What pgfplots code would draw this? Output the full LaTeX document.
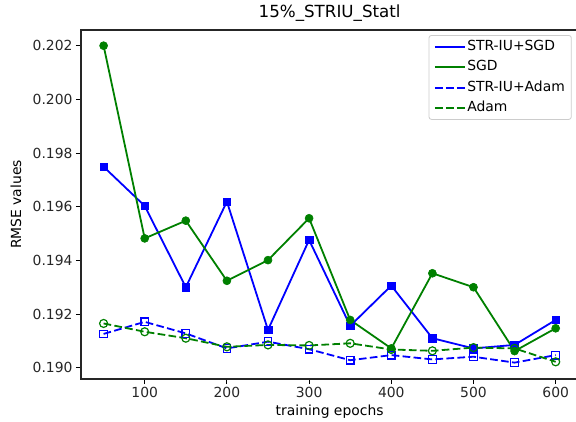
\documentclass[border=0pt]{standalone}
\usepackage{fontspec}
\setmainfont{DejaVu Sans}
\usepackage{pgfplots}
\pgfplotsset{compat=1.18}
\definecolor{mplgreen}{RGB}{0,128,0}
\definecolor{legendedge}{RGB}{204,204,204}

\begin{document}
\begin{tikzpicture}
\useasboundingbox (-81pt,-42pt) rectangle (495pt,379pt);
\begin{axis}[
  scale only axis,
  width=497.3pt, height=349pt,
  xmin=22.5, xmax=627.5,
  ymin=0.18958, ymax=0.202585,
  xtick={100,200,300,400,500,600},
  ytick={0.190,0.192,0.194,0.196,0.198,0.200,0.202},
  /pgf/number format/assume math mode=true,
  yticklabel style={/pgf/number format/.cd, fixed, fixed zerofill, precision=3},
  scaled y ticks=false,
  tick label style={font=\fontsize{13.9}{16}\selectfont, text=black!85},
  tick align=outside, tick pos=left,
  major tick length=5pt,
  tick style={black, line width=0.9pt},
  axis line style={black!85, line width=1.1pt},
  title={15\%\_STRIU\_Statl},
  title style={font=\fontsize{16.7}{20}\selectfont, at={(axis description cs:0.5,1)}, anchor=base, yshift=7pt},
  xlabel={training epochs},
  ylabel={RMSE values},
  xlabel style={font=\fontsize{13.9}{16}\selectfont, at={(axis description cs:0.5,-0.0946)}, anchor=center},
  ylabel style={font=\fontsize{13.9}{16}\selectfont, at={(axis description cs:-0.1307,0.5)}, anchor=center, rotate=0},
  legend cell align=left,
  legend image code/.code={\draw[#1] (0pt,0pt) -- (30pt,0pt);},
  legend style={
    at={(1,1)}, anchor=north east, xshift=-6.6pt, yshift=-5pt,
    draw=legendedge, line width=0.8pt, rounded corners=2.5pt,
    font=\fontsize{13.9}{16}\selectfont,
    inner xsep=5pt, inner ysep=3pt,
    nodes={inner sep=1.5pt, text height=10.5pt, text depth=3pt},
    row sep=4pt,
    /tikz/every even column/.append style={column sep=11pt},
  },
]
% solid curves: SGD-based training
\addplot[blue, line width=1.8pt, mark=square*, mark size=3.8pt, mark options={line width=0.6pt}] coordinates {
  (50,0.19749) (100,0.19603) (150,0.19300) (200,0.19619) (250,0.19141) (300,0.19476)
  (350,0.19156) (400,0.19306) (450,0.19110) (500,0.19072) (550,0.19085) (600,0.19178)
};
\addlegendentry{STR-IU+SGD}
\addplot[mplgreen, line width=1.8pt, mark=*, mark size=4pt, mark options={line width=0.6pt}] coordinates {
  (50,0.20200) (100,0.19482) (150,0.19548) (200,0.19324) (250,0.19401) (300,0.19557)
  (350,0.19178) (400,0.19072) (450,0.19352) (500,0.19300) (550,0.19062) (600,0.19147)
};
\addlegendentry{SGD}
% dashed curves: Adam-based training, hollow markers
\addplot[blue, line width=1.8pt, dash pattern=on 7.7pt off 3.3pt, mark=square, mark size=3.8pt,
  mark options={solid, line width=1.2pt, fill=none}] coordinates {
  (50,0.19126) (100,0.19171) (150,0.19128) (200,0.19072) (250,0.19097) (300,0.19069)
  (350,0.19028) (400,0.19047) (450,0.19031) (500,0.19041) (550,0.19019) (600,0.19047)
};
\addlegendentry{STR-IU+Adam}
\addplot[mplgreen, line width=1.8pt, dash pattern=on 7.7pt off 3.3pt, mark=o, mark size=4pt,
  mark options={solid, line width=1.2pt, fill=none}] coordinates {
  (50,0.19165) (100,0.19134) (150,0.19110) (200,0.19078) (250,0.19085) (300,0.19083)
  (350,0.19091) (400,0.19068) (450,0.19063) (500,0.19075) (550,0.19072) (600,0.19022)
};
\addlegendentry{Adam}
\end{axis}
\end{tikzpicture}
\end{document}
